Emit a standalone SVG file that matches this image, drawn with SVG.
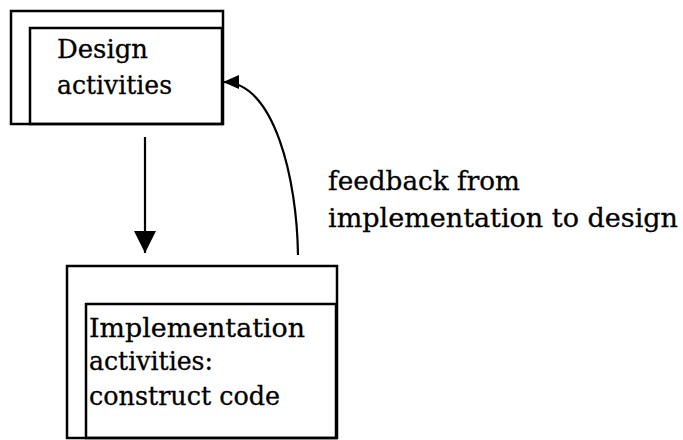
<svg xmlns="http://www.w3.org/2000/svg" width="683" height="440" viewBox="0 0 683 440">
  <style>
    .box { fill: none; stroke: #000; stroke-width: 2.5; }
    .label { font-family: "DejaVu Serif", "Liberation Serif", serif; font-size: 26px; fill: #000; stroke: #000; stroke-width: 0.3; }
    .edge { fill: none; stroke: #000; stroke-width: 2.2; }
  </style>
  <defs>
    <marker id="headBig" viewBox="0 0 22 22" refX="22" refY="11" markerWidth="22" markerHeight="22" markerUnits="userSpaceOnUse" orient="auto">
      <path d="M0,0 L22,11 L0,22 Z" fill="#000"/>
    </marker>
    <marker id="headSmall" viewBox="0 0 16 14" refX="16" refY="7" markerWidth="16" markerHeight="14" markerUnits="userSpaceOnUse" orient="auto">
      <path d="M0,0 L16,7 L0,14 Z" fill="#000"/>
    </marker>
  </defs>
  <rect width="683" height="440" fill="#fff"/>

  <g id="design">
    <rect class="box" x="11" y="11" width="212" height="113"/>
    <rect class="box" x="30" y="28" width="192" height="96"/>
    <text class="label" x="57" y="58" textLength="91" lengthAdjust="spacingAndGlyphs">Design</text>
    <text class="label" x="57" y="94" textLength="115" lengthAdjust="spacingAndGlyphs">activities</text>
  </g>

  <g id="implementation">
    <rect class="box" x="67" y="266" width="270" height="172"/>
    <rect class="box" x="86" y="304" width="250" height="134"/>
    <text class="label" x="89" y="337" textLength="216" lengthAdjust="spacingAndGlyphs">Implementation</text>
    <text class="label" x="89" y="370" textLength="124" lengthAdjust="spacingAndGlyphs">activities:</text>
    <text class="label" x="89" y="405" textLength="191" lengthAdjust="spacingAndGlyphs">construct code</text>
  </g>

  <g id="feedback-label">
    <text class="label" x="328" y="190" textLength="192" lengthAdjust="spacingAndGlyphs">feedback from</text>
    <text class="label" x="328" y="227" textLength="350" lengthAdjust="spacingAndGlyphs">implementation to design</text>
  </g>

  <g id="connectors">
    <path class="edge" d="M145,137 L145,253" marker-end="url(#headBig)"/>
    <path class="edge" d="M298,255 C297,180 275,82 223,82" marker-end="url(#headSmall)"/>
  </g>
</svg>
